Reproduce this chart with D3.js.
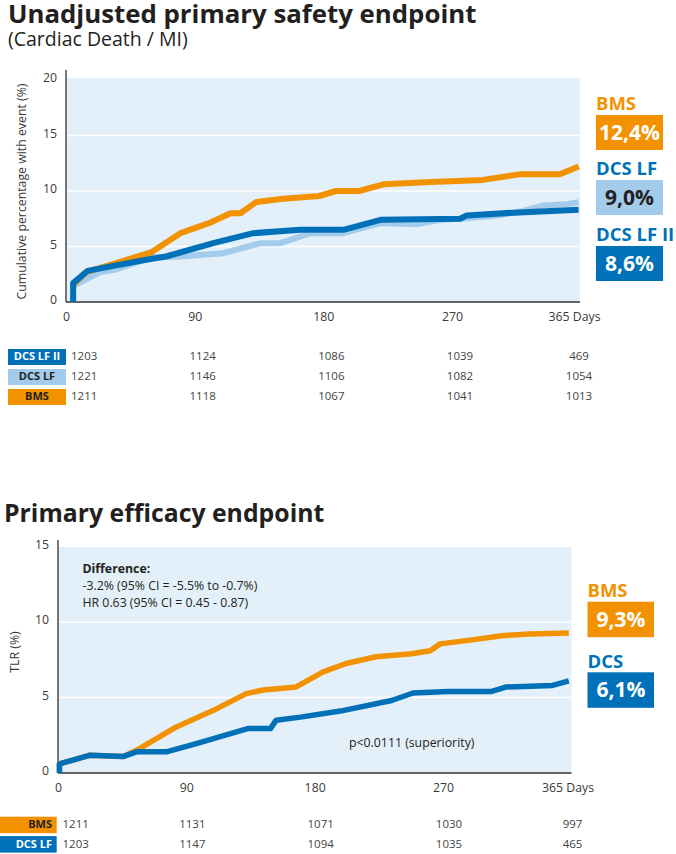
<!DOCTYPE html>
<html>
<head>
<meta charset="utf-8">
<script src="https://cdn.jsdelivr.net/npm/d3@7"></script>
<style>
  html, body { margin: 0; padding: 0; background: #ffffff; }
  svg { display: block; font-family: "Open Sans", "Noto Sans", sans-serif; }
</style>
</head>
<body>
<div id="chart"></div>
<script>
// ---------------- DATA ----------------
// Chart 1: Unadjusted primary safety endpoint (Cardiac Death / MI) — [day, cumulative %]
const safetyBMS = [[4,1.4],[14,2.7],[35,3.5],[60,4.5],[80,6.2],[100,7.1],[115,8.0],[122,8.0],[133,9.0],[152,9.3],[177,9.55],[189,10.0],[205,10.0],[222,10.6],[255,10.8],[293,11.0],[320,11.5],[350,11.5],[364,12.2]];
const safetyDCSLF = [[4,1.4],[24,2.7],[34,2.9],[59,4.0],[80,4.1],[110,4.4],[136,5.3],[150,5.3],[171,6.2],[194,6.2],[220,7.1],[245,7.0],[262,7.4],[276,7.5],[303,7.8],[323,8.2],[338,8.7],[355,8.8],[364,9.0]];
const safetyDCSLF2 = [[5,0],[5,1.7],[15,2.8],[35,3.3],[60,3.9],[70,4.1],[103,5.3],[131,6.2],[164,6.5],[194,6.5],[220,7.4],[276,7.5],[281,7.8],[316,8.05],[364,8.3]];
const safetyYTicks = [0, 5, 10, 15, 20];
const dayTicks = [0, 90, 180, 270, 365];
const dayTickLabels = ["0", "90", "180", "270", "365 Days"];
const safetyGroups = ["DCS LF II", "DCS LF", "BMS"];
const safetyFinal = ["8,6%", "9,0%", "12,4%"];
const safetyAtRisk = {
  "DCS LF II": [1203, 1124, 1086, 1039, 469],
  "DCS LF":    [1221, 1146, 1106, 1082, 1054],
  "BMS":       [1211, 1118, 1067, 1041, 1013]
};

// Chart 2: Primary efficacy endpoint (TLR %) — [day, cumulative %]
const effBMS = [[1,0],[1,0.6],[22,1.17],[46,1.1],[55,1.5],[83,3.05],[109,4.15],[132,5.26],[144,5.5],[167,5.7],[186,6.7],[202,7.25],[223,7.7],[248,7.9],[261,8.1],[268,8.55],[290,8.8],[315,9.1],[334,9.2],[363,9.27]];
const effDCS = [[1,0],[1,0.6],[22,1.17],[46,1.1],[55,1.4],[76,1.4],[97,1.95],[133,2.94],[149,2.94],[153,3.5],[170,3.7],[198,4.1],[234,4.8],[249,5.3],[274,5.4],[306,5.4],[317,5.7],[351,5.8],[363,6.1]];
const effYTicks = [0, 5, 10, 15];
const effGroups = ["BMS", "DCS LF"];
const effFinal = ["9,3%", "6,1%"];
const effAtRisk = {
  "BMS":    [1211, 1131, 1071, 1030, 997],
  "DCS LF": [1203, 1147, 1094, 1035, 465]
};
const effNotes = ["Difference:", "-3.2% (95% CI = -5.5% to -0.7%)", "HR 0.63 (95% CI = 0.45 - 0.87)"];
const effP = "p<0.0111 (superiority)";

// ---------------- STYLE ----------------
const C = {
  orange: "#f39200",
  blue: "#0071b9",
  light: "#a3cbec",
  bg: "#e3eff9",
  text: "#231f20",
  axis: "#333333",
  tick: "#3a3a3a"
};
const groupColor = { "BMS": C.orange, "DCS LF": C.light, "DCS LF II": C.blue };

const svg = d3.select("#chart").append("svg").attr("width", 676).attr("height", 854);

// ---------------- TITLES ----------------
svg.append("text").attr("x", 8).attr("y", 23).attr("font-size", 25.8).attr("font-weight", 700)
  .attr("fill", C.text).text("Unadjusted primary safety endpoint");
svg.append("text").attr("x", 8).attr("y", 45.5).attr("font-size", 19.5).attr("fill", C.text)
  .text("(Cardiac Death / MI)");
svg.append("text").attr("x", 4).attr("y", 522).attr("font-size", 24.8).attr("font-weight", 700)
  .attr("fill", C.text).text("Primary efficacy endpoint");

// ---------------- CHART HELPER ----------------
function drawPanel(o) {
  const g = svg.append("g");
  const x = o.x, y = o.y;
  const [x0, x1] = [x.range()[0], x.range()[x.range().length - 1]];
  const [yb, yt] = y.range();
  // background
  g.append("rect").attr("x", x0).attr("y", o.bgTop).attr("width", x1 - x0).attr("height", yb - o.bgTop)
    .attr("fill", C.bg);
  // grid
  g.selectAll(".grid").data(o.yTicks.filter(d => d > 0 && y(d) > o.bgTop + 2)).join("line")
    .attr("x1", x0).attr("x2", x1).attr("y1", d => y(d)).attr("y2", d => y(d))
    .attr("stroke", "#ffffff").attr("stroke-width", 1.6);
  // y axis
  const ya = d3.axisLeft(y).tickValues(o.yTicks).tickSize(0).tickPadding(9).tickFormat(d3.format("d"));
  const yg = g.append("g").attr("transform", `translate(${x0},0)`).call(ya);
  yg.select(".domain").remove();
  yg.selectAll("text").attr("font-size", 12.3).attr("fill", C.tick).attr("font-family", "Open Sans").attr("dy", "0.15em");
  g.append("line").attr("x1", x0).attr("x2", x0).attr("y1", o.axisTop).attr("y2", yb)
    .attr("stroke", C.axis).attr("stroke-width", 1.3);
  // x axis
  const xa = d3.axisBottom(x).tickValues(dayTicks).tickSize(0).tickPadding(10)
    .tickFormat((d, i) => dayTickLabels[i]);
  const xg = g.append("g").attr("transform", `translate(0,${yb})`).call(xa);
  xg.select(".domain").remove();
  xg.selectAll("text").attr("font-size", 12.3).attr("fill", C.tick).attr("font-family", "Open Sans");
  xg.selectAll(".tick").filter(d => d === 365).select("text")
    .attr("text-anchor", "start").attr("dx", o.lastTickShift);
  g.append("line").attr("x1", x0).attr("x2", x1).attr("y1", yb).attr("y2", yb)
    .attr("stroke", C.axis).attr("stroke-width", 1.3);
  // y label
  g.append("text").attr("transform", `translate(${o.yLabelX},${o.yLabelY}) rotate(-90)`)
    .attr("text-anchor", "middle").attr("font-size", 12.3).attr("fill", C.tick).text(o.yLabel);
  // lines
  const line = d3.line().x(d => x(d[0])).y(d => y(d[1]));
  o.series.forEach(s => {
    g.append("path").datum(s.data).attr("d", line).attr("fill", "none")
      .attr("stroke", s.color).attr("stroke-width", s.width).attr("stroke-linejoin", "round");
  });
  return g;
}

// ---------------- CHART 1 ----------------
const x1s = d3.scaleLinear().domain([0, 270, 365]).range([66, 452, 580]);
const y1s = d3.scaleLinear().domain([0, 20]).range([302, 80]);
drawPanel({
  x: x1s, y: y1s, yTicks: safetyYTicks, bgTop: 78, axisTop: 70, lastTickShift: -32,
  yLabel: "Cumulative percentage with event (%)", yLabelX: 26, yLabelY: 191.5,
  series: [
    { data: safetyDCSLF, color: C.light, width: 6 },
    { data: safetyBMS, color: C.orange, width: 6 },
    { data: safetyDCSLF2, color: C.blue, width: 6 }
  ]
});

// right-hand end labels chart 1
const endLab1 = [
  { name: "BMS", val: safetyFinal[2], color: C.orange, fill: C.orange, tcol: "#ffffff", top: 115 },
  { name: "DCS LF", val: safetyFinal[1], color: C.blue, fill: C.light, tcol: C.text, top: 180 },
  { name: "DCS LF II", val: safetyFinal[0], color: C.blue, fill: C.blue, tcol: "#ffffff", top: 246 }
];
endLab1.forEach(d => {
  svg.append("text").attr("x", 596).attr("y", d.top - 5).attr("font-size", 18.5).attr("font-weight", 700)
    .attr("fill", d.color).text(d.name);
  svg.append("rect").attr("x", 596).attr("y", d.top).attr("width", 67).attr("height", 35).attr("fill", d.fill);
  svg.append("text").attr("x", 629.5).attr("y", d.top + 25).attr("text-anchor", "middle")
    .attr("font-size", 21).attr("font-weight", 700).attr("fill", d.tcol).text(d.val);
});

// number at risk chart 1
safetyGroups.forEach((grp, i) => {
  const base = 360 + i * 20;
  const fill = groupColor[grp];
  svg.append("rect").attr("x", 8).attr("y", base - 11).attr("width", 58).attr("height", 16).attr("fill", fill);
  svg.append("text").attr("x", 37).attr("y", base).attr("text-anchor", "middle").attr("font-size", 11)
    .attr("font-weight", 700).attr("fill", grp === "DCS LF II" ? "#ffffff" : C.text).text(grp);
  safetyAtRisk[grp].forEach((v, j) => {
    const t = svg.append("text").attr("y", base).attr("font-size", 11.5).attr("fill", "#444").text(v);
    if (j === 0) t.attr("x", 71);
    else t.attr("x", x1s(dayTicks[j]) + (j === 4 ? -1 : 8)).attr("text-anchor", "middle");
  });
});

// ---------------- CHART 2 ----------------
const x2s = d3.scaleLinear().domain([0, 270, 365]).range([58, 443, 571.5]);
const y2s = d3.scaleLinear().domain([0, 15]).range([773, 546.5]);
drawPanel({
  x: x2s, y: y2s, yTicks: effYTicks, bgTop: 547, axisTop: 540, lastTickShift: -30,
  yLabel: "TLR (%)", yLabelX: 19, yLabelY: 652,
  series: [
    { data: effBMS, color: C.orange, width: 5.5 },
    { data: effDCS, color: C.blue, width: 5.5 }
  ]
});

// annotations chart 2
effNotes.forEach((t, i) => {
  svg.append("text").attr("x", 82.5).attr("y", 573.3 + i * 16.7).attr("font-size", 12.3)
    .attr("font-weight", i === 0 ? 700 : 400).attr("fill", C.text).text(t);
});
svg.append("text").attr("x", 349).attr("y", 746.7).attr("font-size", 12.3).attr("fill", C.text).text(effP);

// right-hand end labels chart 2
const endLab2 = [
  { name: "BMS", val: effFinal[0], color: C.orange, fill: C.orange, top: 601.7 },
  { name: "DCS", val: effFinal[1], color: C.blue, fill: C.blue, top: 672.3 }
];
endLab2.forEach(d => {
  svg.append("text").attr("x", 587.5).attr("y", d.top - 4.5).attr("font-size", 18.5).attr("font-weight", 700)
    .attr("fill", d.color).text(d.name);
  svg.append("rect").attr("x", 587.5).attr("y", d.top).attr("width", 66.5).attr("height", 35.5).attr("fill", d.fill);
  svg.append("text").attr("x", 621).attr("y", d.top + 25).attr("text-anchor", "middle")
    .attr("font-size", 21).attr("font-weight", 700).attr("fill", "#ffffff").text(d.val);
});

// number at risk chart 2
effGroups.forEach((grp, i) => {
  const base = 828.3 + i * 19.4;
  const fill = grp === "BMS" ? C.orange : C.blue;
  svg.append("rect").attr("x", 0).attr("y", base - 11.6).attr("width", 56.7).attr("height", 16.5).attr("fill", fill);
  svg.append("text").attr("x", 52).attr("y", base).attr("text-anchor", "end").attr("font-size", 11)
    .attr("font-weight", 700).attr("fill", grp === "BMS" ? C.text : "#ffffff").text(grp);
  effAtRisk[grp].forEach((v, j) => {
    const t = svg.append("text").attr("y", base).attr("font-size", 11.5).attr("fill", "#444").text(v);
    if (j === 0) t.attr("x", 62.5);
    else t.attr("x", x2s(dayTicks[j]) + (j === 4 ? 1 : 6)).attr("text-anchor", "middle");
  });
});
</script>
</body>
</html>
